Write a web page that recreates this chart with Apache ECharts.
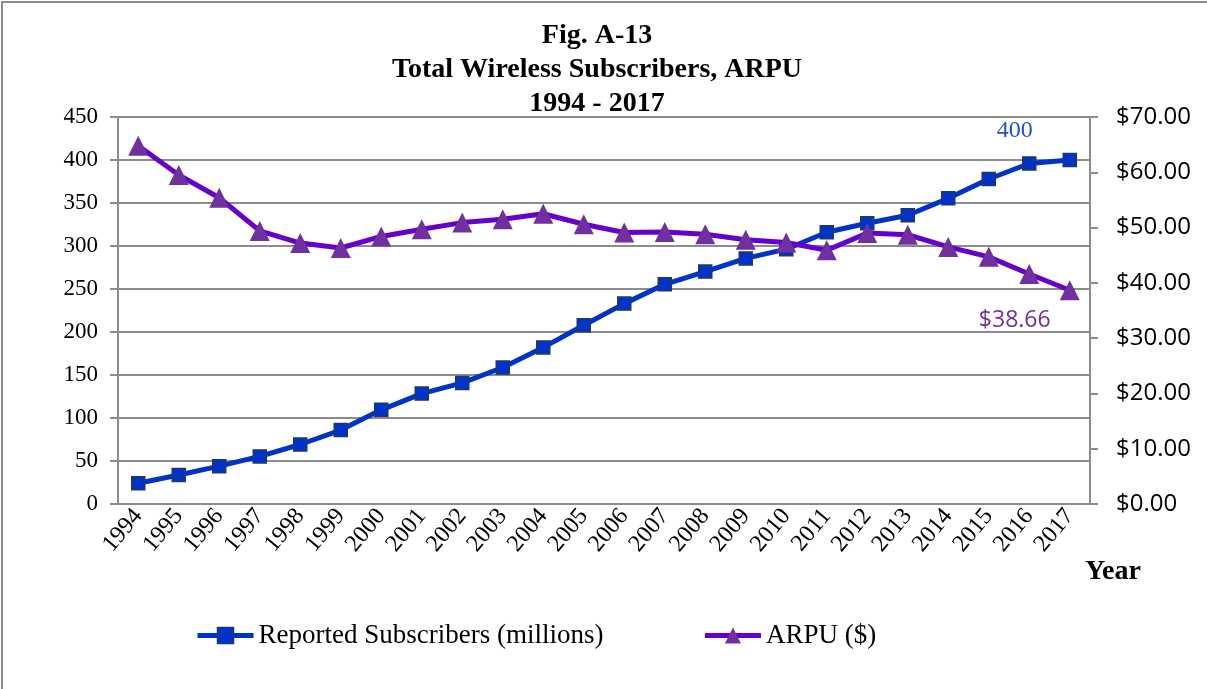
<!DOCTYPE html>
<html>
<head>
<meta charset="utf-8">
<script src="https://cdn.jsdelivr.net/npm/echarts@6/dist/echarts.min.js"></script>
<style>
	html, body { margin: 0; padding: 0; background: #ffffff; }
	#chart { width: 1207px; height: 689px; }
</style>
</head>
<body>
<div id="chart"></div>
<script>
// 年份
const years = ['1994','1995','1996','1997','1998','1999','2000','2001','2002','2003','2004','2005',
	'2006','2007','2008','2009','2010','2011','2012','2013','2014','2015','2016','2017'];
// 用户数 (百万)
const subscribers = [24.1, 33.8, 44.0, 55.3, 69.2, 86.0, 109.5, 128.4, 140.8, 158.7, 182.1, 207.9,
	233.0, 255.4, 270.3, 285.6, 296.3, 316.0, 326.5, 335.7, 355.4, 377.9, 395.9, 400.0];
// ARPU ($)
const arpu = [64.8, 59.5, 55.4, 49.4, 47.2, 46.3, 48.4, 49.7, 50.9, 51.5, 52.5, 50.6,
	49.1, 49.2, 48.8, 47.8, 47.3, 45.9, 49.0, 48.7, 46.5, 44.7, 41.6, 38.66];

const leftTicks = { min: 0, max: 450, interval: 50 };
const rightTicks = { min: 0, max: 70, interval: 10 };

const gray = '#8c8c8c';
const serif = '"Liberation Serif", "Times New Roman", serif';
const sans = '"Open Sans", "Noto Sans", sans-serif';

const last = years.length - 1;
const subData = subscribers.map((v, i) => i === last ? {
	value: v,
	label: { show: true, formatter: '400', offset: [-55, -5], position: 'top',
		color: '#2350d0', fontFamily: serif, fontSize: 24 }
} : v);
const arpuData = arpu.map((v, i) => i === last ? {
	value: v,
	label: { show: true, formatter: '$38.66', offset: [-55, 4], position: 'bottom',
		color: '#7030a0', fontFamily: sans, fontSize: 23 }
} : v);

const chart = echarts.init(document.getElementById('chart'));
const option = {
	animation: false,
	backgroundColor: '#ffffff',
	title: {
		text: 'Fig. A-13\nTotal Wireless Subscribers, ARPU\n1994 - 2017',
		left: 592,
		top: 14,
		textAlign: 'center',
		textStyle: { fontFamily: serif, fontWeight: 'bold', fontSize: 28, lineHeight: 34, color: '#000' }
	},
	graphic: [
		{ type: 'rect', shape: { x: 2, y: 2, width: 1220, height: 700 }, silent: true,
			style: { fill: 'none', stroke: gray, lineWidth: 2 } },
		{ type: 'text', left: 1085, top: 558,
			style: { text: 'Year', font: 'bold 28px ' + serif, fill: '#000' } }
	],
	legend: {
		left: 190,
		top: 617,
		itemGap: 99,
		itemWidth: 56,
		itemHeight: 20,
		lineStyle: { width: 5 },
		textStyle: { fontFamily: serif, fontSize: 27, color: '#000' },
		data: [
			{ name: 'Reported Subscribers (millions)', itemStyle: { borderWidth: 1.5 } },
			{ name: 'ARPU ($)' }
		]
	},
	grid: { left: 118, right: 117, top: 117, bottom: 185 },
	xAxis: {
		type: 'category',
		data: years,
		boundaryGap: true,
		axisLine: { lineStyle: { color: gray, width: 2 } },
		axisTick: { interval: 1, length: 8, lineStyle: { color: gray, width: 2 } },
		axisLabel: { interval: 0, rotate: 50, margin: 8, fontFamily: serif, fontSize: 24, color: '#000' },
		splitLine: { show: false }
	},
	yAxis: [
		{
			type: 'value',
			min: leftTicks.min, max: leftTicks.max, interval: leftTicks.interval,
			axisLine: { show: true, lineStyle: { color: gray, width: 2 } },
			axisTick: { show: true, length: 8, lineStyle: { color: gray, width: 2 } },
			axisLabel: { margin: 20, fontFamily: serif, fontSize: 23, color: '#000' },
			splitLine: { show: true, lineStyle: { color: gray, width: 2 } }
		},
		{
			type: 'value',
			position: 'right',
			min: rightTicks.min, max: rightTicks.max, interval: rightTicks.interval,
			axisLine: { show: true, lineStyle: { color: gray, width: 2 } },
			axisTick: { show: true, length: 8, lineStyle: { color: gray, width: 2 } },
			axisLabel: { margin: 26, fontFamily: sans, fontSize: 24, color: '#000',
				formatter: v => '$' + v.toFixed(2) },
			splitLine: { show: false }
		}
	],
	series: [
		{
			name: 'Reported Subscribers (millions)',
			type: 'line',
			yAxisIndex: 0,
			data: subData,
			symbol: 'rect',
			symbolSize: 13,
			lineStyle: { color: '#0033cc', width: 5 },
			itemStyle: { color: '#0033cc', borderColor: '#1f3864', borderWidth: 1.5 },
			z: 3
		},
		{
			name: 'ARPU ($)',
			type: 'line',
			yAxisIndex: 1,
			data: arpuData,
			symbol: 'triangle',
			symbolSize: 20,
			lineStyle: { color: '#6600cc', width: 5 },
			itemStyle: { color: '#7030a0' },
			z: 4
		}
	]
};
chart.setOption(option);
</script>
</body>
</html>
